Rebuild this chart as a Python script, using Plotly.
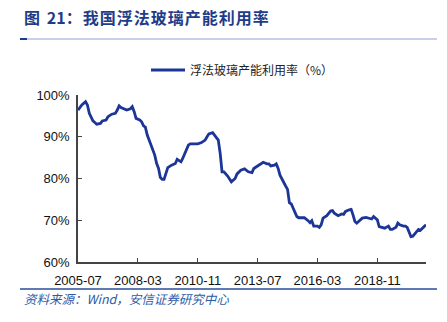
import plotly.graph_objects as go

dates = ["2005-07","2005-09","2005-11","2005-12","2006-01","2006-03","2006-04","2006-05","2006-07","2006-08",
         "2006-10","2006-11","2007-01","2007-03","2007-04","2007-05","2007-06","2007-08","2007-09","2007-11",
         "2007-12","2008-01","2008-02","2008-04","2008-05","2008-06","2008-07","2008-08","2008-09","2008-10",
         "2008-12","2009-01","2009-02","2009-03","2009-04","2009-05","2009-06","2009-07","2009-09","2009-11",
         "2009-12","2010-02","2010-03","2010-05","2010-06","2010-07","2010-08","2010-10","2010-11","2011-01",
         "2011-03","2011-04","2011-05","2011-07","2011-08","2011-09","2011-10","2011-11","2011-12","2012-01",
         "2012-03","2012-05","2012-07","2012-08","2012-10","2012-12","2013-02","2013-04","2013-05","2013-07",
         "2013-09","2013-10","2013-12","2014-01","2014-02","2014-04","2014-05","2014-06","2014-07","2014-08",
         "2014-09","2014-10","2014-11","2014-12","2015-01","2015-02","2015-03","2015-04","2015-05","2015-07",
         "2015-08","2015-10","2015-11","2015-12","2016-01","2016-03","2016-04","2016-05","2016-06","2016-08",
         "2016-10","2016-11","2016-12","2017-02","2017-04","2017-05","2017-06","2017-08","2017-09","2017-10",
         "2017-11","2017-12","2018-01","2018-03","2018-05","2018-07","2018-08","2018-09","2018-11","2018-12",
         "2019-02","2019-03","2019-05","2019-06","2019-07","2019-09","2019-10","2019-11","2020-01","2020-02",
         "2020-03","2020-04","2020-05","2020-06","2020-08","2020-09","2020-10","2020-11","2020-12","2021-01"]
values = [96.4,97.6,98.4,97.6,95.6,93.8,93.4,93.0,93.2,93.8,
          94.0,94.8,95.4,95.6,96.4,97.4,97.0,96.6,96.4,96.7,
          97.2,96.0,94.4,94.0,93.6,92.6,92.3,90.4,89.2,88.0,
          85.6,83.6,82.4,80.3,79.8,79.8,81.2,82.6,83.2,83.6,
          84.6,84.0,84.8,86.8,88.0,88.3,88.3,88.4,88.3,88.6,
          89.2,90.0,90.7,91.0,90.4,89.6,89.2,86.0,81.6,81.6,
          80.6,79.2,80.0,81.1,82.0,82.3,81.6,81.4,82.4,83.0,
          83.5,83.9,83.5,83.5,83.0,83.2,83.5,82.4,80.8,79.8,
          78.9,78.2,77.4,74.2,73.9,72.9,71.7,70.9,70.6,70.5,
          70.6,69.9,69.4,69.9,68.6,68.6,68.3,68.9,70.5,71.1,
          72.2,72.3,71.7,71.1,71.5,71.4,72.1,72.5,72.6,71.3,
          69.7,69.3,69.7,70.5,70.7,70.5,70.3,70.9,70.1,68.5,
          68.1,68.1,68.6,67.8,67.8,68.3,69.3,68.9,68.6,68.6,
          68.3,66.9,66.1,66.2,67.3,67.8,67.6,68.1,68.5,68.9]
tick_dates = ["2005-07-01","2008-03-01","2010-11-01","2013-07-01","2016-03-01","2018-11-01"]
tick_labels = ["2005-07","2008-03","2010-11","2013-07","2016-03","2018-11"]
series_name = "浮法玻璃产能利用率（%）"
title_text = "图\u2009 21：\u200a我\u200a国\u200a浮\u200a法\u200a玻\u200a璃\u200a产\u200a能\u200a利\u200a用\u200a率"
source_text = "资料来源：<i>Wind</i>，安信证券研究中心"

W, H = 447, 322
L, R, T, B = 78, 426, 95, 262

def px(x):
    return (x - L) / (R - L)

def py(y):
    return (B - y) / (B - T)

fig = go.Figure()
fig.add_trace(go.Scatter(
    x=[d + "-01" for d in dates], y=values, mode="lines", name=series_name,
    line=dict(color="#1C3596", width=2.8),
))

axis_font = dict(family="Liberation Sans, Arial, sans-serif", size=13, color="#111111")
fig.update_layout(
    width=W, height=H,
    margin=dict(l=L, r=W - R, t=T, b=H - B),
    paper_bgcolor="white", plot_bgcolor="white",
    showlegend=True,
    legend=dict(x=px(146), y=py(70), xanchor="left", yanchor="middle",
                font=dict(family="Noto Sans CJK SC", size=12, color="#222222"),
                bgcolor="rgba(0,0,0,0)", itemwidth=34),
    xaxis=dict(type="date", range=["2005-07-01", "2021-01-01"],
               tickvals=tick_dates, ticktext=tick_labels,
               ticks="inside", ticklen=4, tickcolor="#444444",
               ticklabelstandoff=6,
               showline=True, linecolor="#444444", linewidth=1.5,
               showgrid=False, zeroline=False, tickfont=axis_font),
    yaxis=dict(range=[60, 100], dtick=10, ticksuffix="%",
               ticks="inside", ticklen=4, tickcolor="#444444",
               ticklabelstandoff=4,
               showline=True, linecolor="#444444", linewidth=1.5,
               showgrid=False, zeroline=False, tickfont=axis_font),
)

fig.add_annotation(text=title_text, xref="paper", yref="paper",
                   x=px(22), y=py(17), xanchor="left", yanchor="middle", showarrow=False,
                   font=dict(family="Noto Sans CJK SC", size=16, color="#1F3C88", weight="bold"))
fig.add_annotation(text=source_text, xref="paper", yref="paper",
                   x=px(22), y=py(298), xanchor="left", yanchor="middle", showarrow=False,
                   font=dict(family="Noto Sans CJK SC", size=12.5, color="#2D5BA8", style="italic"))

fig.add_shape(type="line", xref="paper", yref="paper", x0=px(20), x1=px(437), y0=py(39), y1=py(39),
              line=dict(color="#8EA2D0", width=1))
fig.add_shape(type="line", xref="paper", yref="paper", x0=px(20), x1=px(27), y0=py(39), y1=py(39),
              line=dict(color="#1F3C88", width=2))
fig.add_shape(type="line", xref="paper", yref="paper", x0=px(20), x1=px(437), y0=py(289), y1=py(289),
              line=dict(color="#2A4C9A", width=1.5))

fig.write_html("out.html")
